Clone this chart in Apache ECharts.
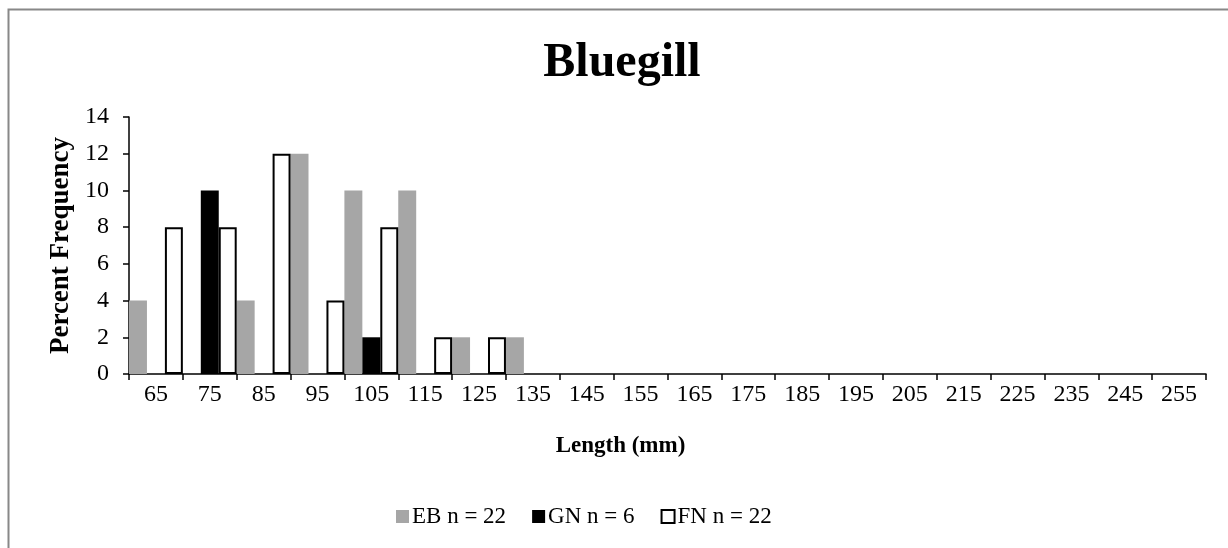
<!DOCTYPE html>
<html>
<head>
<meta charset="utf-8">
<script src="https://cdn.jsdelivr.net/npm/echarts@6/dist/echarts.min.js"></script>
<style>
html,body{margin:0;padding:0;background:#fff;}
#chart{width:1228px;height:548px;}
</style>
</head>
<body>
<div id="chart"></div>
<script>
const categories = ['65','75','85','95','105','115','125','135','145','155','165','175','185','195','205','215','225','235','245','255'];
const ebValues = [4,0,4,12,10,10,2,2,0,0,0,0,0,0,0,0,0,0,0,0];
const gnValues = [0,10,0,0,2,0,0,0,0,0,0,0,0,0,0,0,0,0,0,0];
const fnValues = [8,8,12,4,8,2,2,0,0,0,0,0,0,0,0,0,0,0,0,0];
const seriesNames = ['EB n = 22','GN n = 6','FN n = 22'];
const yTicks = {min:0, max:14, interval:2};

// zero-height bars are left undrawn, as in the reference
const hideZero = arr => arr.map(v => (v === 0 ? '-' : v));

const FONT = '"Liberation Serif", "Times New Roman", serif';
const chart = echarts.init(document.getElementById('chart'), null, {renderer:'canvas'});
chart.setOption({
  animation:false,
  backgroundColor:'#fff',
  graphic:[{
    type:'rect', left:6, top:7, shape:{x:0,y:0,width:1260,height:600},
    style:{fill:'none', stroke:'#888', lineWidth:2}, silent:true, z:-10
  }],
  title:{
    text:'Bluegill', left:617, top:35, textAlign:'center',
    textStyle:{fontFamily:FONT, fontWeight:'bold', fontSize:48, color:'#000'}
  },
  legend:{
    bottom:15, left:391, itemGap:26, itemWidth:13, itemHeight:13,
    icon:'rect',
    textStyle:{fontFamily:FONT, fontSize:23, color:'#000', padding:[0,0,0,-2]},
    data:seriesNames
  },
  grid:{left:129, right:22, top:117, bottom:174, containLabel:false},
  xAxis:{
    type:'category', data:categories,
    axisLine:{lineStyle:{color:'#000', width:1.5}},
    axisTick:{show:true, alignWithLabel:false, length:6, lineStyle:{color:'#000', width:1.5}},
    axisLabel:{fontFamily:FONT, fontSize:24, color:'#000', margin:9, interval:0},
    name:'Length (mm)', nameLocation:'middle', nameGap:61,
    nameTextStyle:{fontFamily:FONT, fontWeight:'bold', fontSize:23, color:'#000', padding:[0,94,0,0]}
  },
  yAxis:{
    type:'value', min:yTicks.min, max:yTicks.max, interval:yTicks.interval,
    axisLine:{show:true, lineStyle:{color:'#000', width:1.5}},
    axisTick:{show:true, length:6, lineStyle:{color:'#000', width:1.5}},
    splitLine:{show:false},
    axisLabel:{fontFamily:FONT, fontSize:24, color:'#000', margin:20},
    name:'Percent Frequency', nameLocation:'middle', nameGap:52,
    nameTextStyle:{fontFamily:FONT, fontWeight:'bold', fontSize:27, color:'#000'}
  },
  series:[
    {name:seriesNames[0], type:'bar', data:hideZero(ebValues), barGap:'0%', barCategoryGap:'0%',
     itemStyle:{color:'#a6a6a6'}},
    {name:seriesNames[1], type:'bar', data:hideZero(gnValues), barGap:'0%', barCategoryGap:'0%',
     itemStyle:{color:'#000'}},
    {name:seriesNames[2], type:'bar', data:hideZero(fnValues), barGap:'0%', barCategoryGap:'0%',
     itemStyle:{color:'#fff', borderColor:'#000', borderWidth:2}}
  ]
});
</script>
</body>
</html>
